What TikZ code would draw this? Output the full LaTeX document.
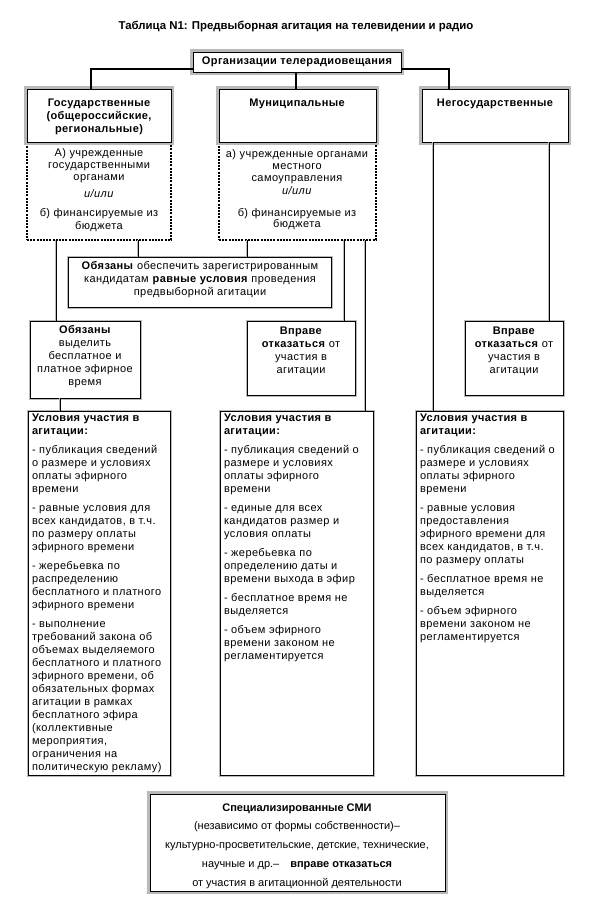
\documentclass[tikz,border=0pt]{standalone}
\usepackage{fontspec}
\setmainfont{Liberation Sans}
\newfontfamily\spf[LetterSpace=4, BoldFeatures={LetterSpace=3.5}]{Liberation Sans}
\newcommand{\fsz}{\fontsize{11}{13}\selectfont}
\begin{document}
\begin{tikzpicture}[x=1pt,y=-1pt,
  every node/.style={font=\spf\fsz, inner sep=0pt, outer sep=0pt},
  hdr/.style={draw=black, line width=0.9pt, fill=white, preaction={draw=gray!55, line width=6pt}, anchor=north west},
  dsh/.style={draw=black, line width=1.1pt, dash pattern=on 2pt off 1.2pt, fill=white, anchor=north west},
  cbox/.style={draw=black, line width=1pt, fill=white, preaction={draw=gray!55, line width=3pt}, anchor=north west},
  conn/.style={line width=1pt, preaction={draw=gray!55, line width=2.8pt}},
  tconn/.style={line width=1.6pt},
  ctxt/.style={align=center},
  ltxt/.style={align=left, anchor=north west},
]
\useasboundingbox (0,0) rectangle (591,897);

% title
\node[font=\rmfamily\fontsize{11.4}{13}\selectfont\bfseries] (title) at (296,27) {Таблица N1: Предвыборная агитация на телевидении и радио};

% dashed boxes
\node[dsh, minimum width=144pt, minimum height=98pt] (gosd) at (27,142) {};
\node[dsh, minimum width=157pt, minimum height=98pt] (mund) at (219,142) {};

% header boxes
\node[hdr, anchor=center, minimum width=208pt, minimum height=20pt, font=\spf\fsz\bfseries] (top) at (297,62) {Организации телерадиовещания};
\node[hdr, minimum width=144pt, minimum height=53pt] (gos) at (27,89) {};
\node[hdr, minimum width=157pt, minimum height=53pt] (mun) at (219,89) {};
\node[hdr, minimum width=146pt, minimum height=53pt] (neg) at (422,89) {};

\node[ctxt, font=\spf\fsz\bfseries] (gost) at (99,117) {Государственные\\(общероссийские,\\региональные)};
\node[ctxt, font=\spf\fsz\bfseries] (munt) at (297,104) {Муниципальные};
\node[ctxt, font=\spf\fsz\bfseries] (negt) at (495,104) {Негосударственные};

\node[ctxt] (gosdt) at (99,190) {А) учрежденные\\[-1pt]государственными\\[-1pt]органами\\[4pt]\textit{и/или}\\[6pt]б) финансируемые из\\бюджета};
\node[ctxt] (mundt) at (297,190) {а) учрежденные органами\\[-1pt]местного\\[-1pt]самоуправления\\\textit{и/или}\\[9pt]б) финансируемые из\\[-2pt]бюджета};

% top connectors
\coordinate (tl) at (91,0);
\coordinate (tr) at (449,0);
\coordinate (tm) at (296,0);
\draw[tconn] ([yshift=-7pt]top.west) -| (tl |- gos.north);
\draw[tconn] ([yshift=-7pt]top.east) -| (tr |- neg.north);
\draw[tconn] (tm |- top.south) -- (tm |- mun.north);

% middle boxes
\node[cbox, minimum width=263pt, minimum height=50pt] (obes) at (68,257) {};
\node[ctxt] (obest) at (200,280) {\textbf{Обязаны} обеспечить зарегистрированным\\кандидатам \textbf{равные условия} проведения\\предвыборной агитации};

\node[cbox, minimum width=110pt, minimum height=77pt] (obv) at (30,321) {};
\node[ctxt] (obvt) at (85,357) {\textbf{Обязаны}\\выделить\\бесплатное и\\платное эфирное\\время};

\node[cbox, minimum width=108pt, minimum height=74pt] (mv) at (247,321) {};
\node[ctxt] (mvt) at (301,351) {\textbf{Вправе}\\\textbf{отказаться} от\\участия в\\агитации};

\node[cbox, minimum width=98pt, minimum height=74pt] (nv) at (465,321) {};
\node[ctxt] (nvt) at (514,351) {\textbf{Вправе}\\\textbf{отказаться} от\\участия в\\агитации};

% connector positions
\coordinate (c1) at (56,0);
\coordinate (c2) at (138,0);
\coordinate (c3) at (247,0);
\coordinate (c4) at (344,0);
\coordinate (c5) at (365,0);
\coordinate (c6) at (60,0);
\coordinate (c7) at (433,0);
\coordinate (c8) at (549,0);

% condition boxes
\node[cbox, minimum width=142pt, minimum height=364pt] (gc) at (28,411) {};
\node[cbox, minimum width=153pt, minimum height=364pt] (mc) at (220,411) {};
\node[cbox, minimum width=147pt, minimum height=364pt] (nc) at (416,411) {};

\draw[conn] (c1 |- gosd.south) -- (c1 |- obv.north);
\draw[conn] (c2 |- gosd.south) -- (c2 |- obes.north);
\draw[conn] (c3 |- mund.south) -- (c3 |- obes.north);
\draw[conn] (c4 |- mund.south) -- (c4 |- mv.north);
\draw[conn] (c5 |- mund.south) -- (c5 |- mc.north);
\draw[conn] (c6 |- obv.south) -- (c6 |- gc.north);
\draw[conn] (c7 |- neg.south) -- (c7 |- nc.north);
\draw[conn] (c8 |- neg.south) -- (c8 |- nv.north);

\node[ltxt] (gct) at (32,414) {\textbf{Условия участия в}\\\textbf{агитации:}\\[6pt]
- публикация сведений\\о размере и условиях\\оплаты эфирного\\времени\\[6pt]
- равные условия для\\всех кандидатов, в т.ч.\\по размеру оплаты\\эфирного времени\\[6pt]
- жеребьевка по\\распределению\\бесплатного и платного\\эфирного времени\\[6pt]
- выполнение\\требований закона об\\объемах выделяемого\\бесплатного и платного\\эфирного времени, об\\обязательных формах\\агитации в рамках\\бесплатного эфира\\(коллективные\\мероприятия,\\ограничения на\\политическую рекламу)};

\node[ltxt] (mct) at (224,414) {\textbf{Условия участия в}\\\textbf{агитации:}\\[6pt]
- публикация сведений о\\размере и условиях\\оплаты эфирного\\времени\\[6pt]
- единые для всех\\кандидатов размер и\\условия оплаты\\[6pt]
- жеребьевка по\\определению даты и\\времени выхода в эфир\\[6pt]
- бесплатное время не\\выделяется\\[6pt]
- объем эфирного\\времени законом не\\регламентируется};

\node[ltxt] (nct) at (420,414) {\textbf{Условия участия в}\\\textbf{агитации:}\\[6pt]
- публикация сведений о\\размере и условиях\\оплаты эфирного\\времени\\[6pt]
- равные условия\\предоставления\\эфирного времени для\\всех кандидатов, в т.ч.\\по размеру оплаты\\[6pt]
- бесплатное время не\\выделяется\\[6pt]
- объем эфирного\\времени законом не\\регламентируется};

% bottom box
\node[hdr, minimum width=295pt, minimum height=97pt] (sp) at (150,794) {};
\node[ctxt, font=\rmfamily\fontsize{11}{18.8}\selectfont] (spt) at (297,846) {\textbf{Специализированные СМИ}\\(независимо от формы собственности)--\\культурно-просветительские, детские, технические,\\научные и др.--\quad\textbf{вправе отказаться}\\от участия в агитационной деятельности};
\end{tikzpicture}
\end{document}
